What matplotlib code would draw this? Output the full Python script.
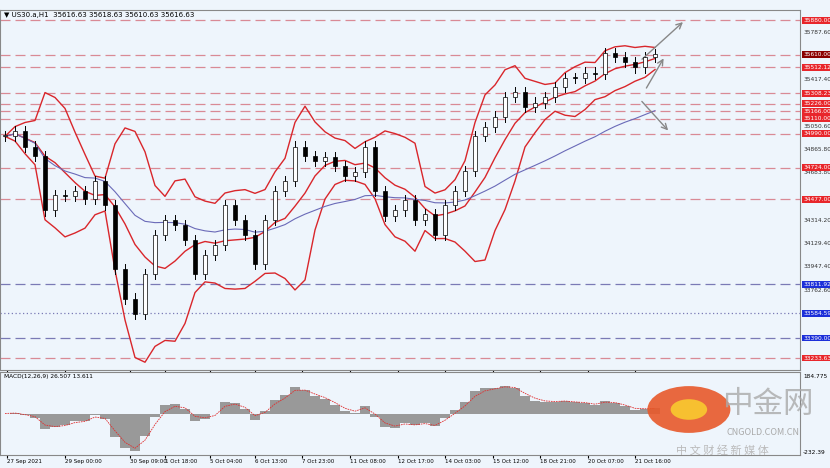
import numpy as np
import pandas as pd
import matplotlib
matplotlib.use("Agg")
import matplotlib.pyplot as plt
from matplotlib.patches import Rectangle, Circle
import matplotlib.transforms as mtrans

plt.rcParams['font.family'] = ['Noto Sans CJK SC', 'DejaVu Sans']

closes = [34970, 35010, 34890, 34815, 34390, 34510, 34500, 34545, 34480, 34620,
          34430, 33930, 33700, 33580, 33890, 34200, 34315, 34275, 34160, 33890,
          34040, 34120, 34430, 34315, 34200, 33970, 34315, 34545, 34620, 34890,
          34815, 34775, 34810, 34740, 34660, 34690, 34890, 34545, 34350, 34390,
          34470, 34315, 34360, 34200, 34430, 34545, 34700, 34970, 35045, 35125,
          35280, 35315, 35200, 35235, 35280, 35355, 35430, 35425, 35470, 35460,
          35625, 35590, 35550, 35510, 35590, 35616]
red_levels = [35880, 35610, 35512.12, 35308.23, 35226.00, 35166.00, 35110.00, 34990.00, 34724.00, 34477.00, 33233.63]
blue_levels = [33811.92, 33584.59, 33390.00]
plain_ticks = [35787.60, 35417.40, 35050.60, 34865.80, 34683.80, 34314.20, 34129.40, 33947.40, 33762.60]
date_labels = ["27 Sep 2021", "29 Sep 00:00", "30 Sep 09:00", "1 Oct 18:00", "5 Oct 04:00", "6 Oct 13:00",
               "7 Oct 23:00", "11 Oct 08:00", "12 Oct 17:00", "14 Oct 03:00", "15 Oct 12:00",
               "18 Oct 21:00", "20 Oct 07:00", "21 Oct 16:00"]
date_pos = [0.2, 6.0, 12.5, 16.0, 20.5, 25.0, 29.7, 34.5, 39.3, 44.0, 48.8, 53.5, 58.3, 63.0]

BG = '#eef5fc'
W, H = 830, 468
fig = plt.figure(figsize=(W/100, H/100), dpi=100, facecolor=BG)
ax = fig.add_axes([0, (H-370)/H, 800/W, 360/H], facecolor=BG)
mx = fig.add_axes([0, (H-455)/H, 800/W, 83/H], facecolor=BG, sharex=ax)

c = pd.Series(closes, dtype=float)
o = c.shift(1).fillna(c.iloc[0])
n = len(c)
x = np.arange(n)
for i in range(n):
    hi = max(o[i], c[i]) + 40
    lo = min(o[i], c[i]) - 40
    ax.plot([i, i], [lo, hi], color='black', lw=0.7, zorder=3)
    b = min(o[i], c[i]); h = max(abs(c[i]-o[i]), 8)
    ax.add_patch(Rectangle((i-0.22, b), 0.44, h, facecolor='white' if c[i] >= o[i] else 'black',
                           edgecolor='black', lw=0.5, zorder=4))

mid2 = c.rolling(6, min_periods=1).mean()
sd2 = c.rolling(6, min_periods=1).std().fillna(0)
ax.plot(x, mid2 + 2*sd2, color='#d9262b', lw=1)
ax.plot(x, mid2 - 2*sd2, color='#d9262b', lw=1)
ax.plot(x, mid2, color='#d9262b', lw=1)
slow = c.ewm(span=30).mean()
ax.plot(x, slow, color='#6a6ab8', lw=0.8)

for lv in red_levels:
    ax.axhline(lv, color='#d98a95', lw=0.9, ls=(0, (8, 4)), zorder=1)
for lv in blue_levels:
    ax.axhline(lv, color='#7a7ab5', lw=0.9, ls=(0, (1, 2)) if lv == 33584.59 else (0, (8, 4)), zorder=1)

ax.annotate('', xy=(68, 35880), xytext=(63.5, 35560), arrowprops=dict(arrowstyle='->', color='#888888', lw=1))
ax.annotate('', xy=(66.5, 35000), xytext=(63.5, 35260), arrowprops=dict(arrowstyle='->', color='#888888', lw=1))
ax.annotate('', xy=(66, 35600), xytext=(64, 35330), arrowprops=dict(arrowstyle='->', color='#888888', lw=1))

ax.set_xlim(-0.5, 79.5)
ax.set_ylim(33140, 35960)
tr = mtrans.blended_transform_factory(ax.transAxes, ax.transData)
kw = dict(transform=tr, fontsize=4.2, va='center', family='DejaVu Sans')
for lv in plain_ticks:
    ax.text(1.004, lv, f"{lv:.2f}", color='#333333', **kw)
for lv in red_levels:
    fc = '#8b0000' if lv == 35610 else '#e8262b'
    ax.text(1.004, lv, f"{lv:.2f}", color='white', bbox=dict(boxstyle='square,pad=0.15', fc=fc, ec='none'), **kw)
for lv in blue_levels:
    ax.text(1.004, lv, f"{lv:.2f}", color='white', bbox=dict(boxstyle='square,pad=0.15', fc='#1c2fd9', ec='none'), **kw)
ax.text(0.005, 0.995, "▼ US30.a,H1  35616.63 35618.63 35610.63 35616.63", transform=ax.transAxes,
        fontsize=5, va='top', family='DejaVu Sans')
ax.set_xticks([]); ax.set_yticks([])

macd = c.ewm(span=3).mean() - c.ewm(span=6).mean()
sig = macd.ewm(span=2).mean()
mx.bar(x, macd, width=1.0, color='#999999')
mx.plot(x, sig, color='#e03030', lw=0.6, ls=(0, (2, 1)))
lim = max(abs(macd.min()), abs(macd.max())) * 1.1
mx.set_ylim(-lim, lim)
mx.set_yticks([])
mx.text(0.005, 0.97, "MACD(12,26,9) 26.507 13.611", transform=mx.transAxes, fontsize=4.2, va='top', family='DejaVu Sans')
mx.text(1.004, 0.95, "184.775", transform=mx.transAxes, fontsize=4.2, va='center', family='DejaVu Sans')
mx.text(1.004, 0.03, "-232.39", transform=mx.transAxes, fontsize=4.2, va='center', family='DejaVu Sans')
mx.set_xticks(date_pos)
mx.set_xticklabels(date_labels, fontsize=4, family='DejaVu Sans', ha='left')
mx.tick_params(axis='x', length=2, pad=1)
for a in (ax, mx):
    for s in a.spines.values():
        s.set_color('#888888'); s.set_linewidth(0.8)

# watermark
fig.patches.append(Circle((0.83, 0.125), 0.05, transform=fig.transFigure, fc='#e8592a', ec='none', alpha=0.9))
fig.patches.append(Circle((0.83, 0.125), 0.022, transform=fig.transFigure, fc='#f7c030', ec='none'))
fig.text(0.87, 0.135, "中金网", fontsize=22, color='#aaaaaa', va='center', alpha=0.8)
fig.text(0.875, 0.075, "CNGOLD.COM.CN", fontsize=6.5, color='#aaaaaa', va='center')
fig.text(0.815, 0.038, "中 文 财 经 新 媒 体", fontsize=8, color='#bbbbbb', va='center')

fig.savefig("out.png", dpi=100, facecolor=BG)
